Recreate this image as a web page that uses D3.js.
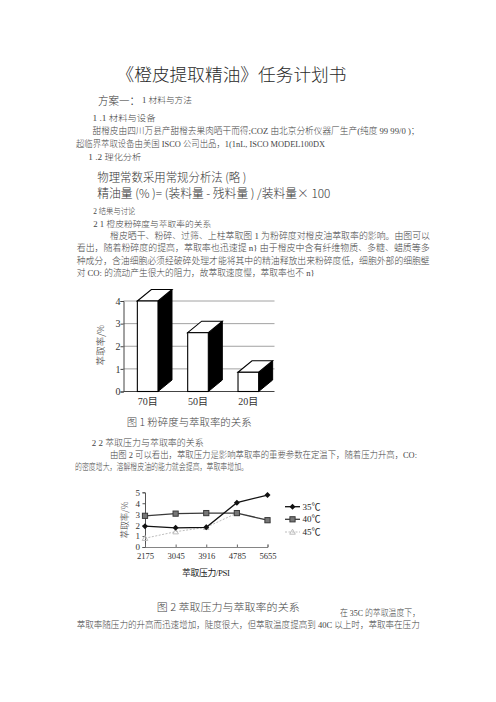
<!DOCTYPE html>
<html><head><meta charset="utf-8">
<script src="https://cdn.jsdelivr.net/npm/d3@7/dist/d3.min.js"></script>
<style>html,body{margin:0;padding:0;background:#fff;}svg{display:block;}</style>
</head><body>
<script>
// ---- data ----
const barCategories = ["70目", "50目", "20目"];
const barValues = [4.0, 2.6, 0.85];
const barTicks = [0, 1, 2, 3, 4];
const pressures = ["2175", "3045", "3916", "4785", "5655"];
const temp35 = [1.9, 1.75, 1.8, 4.05, 4.75];
const temp40 = [2.85, 3.05, 3.1, 3.1, 2.45];
const temp45 = [0.8, 1.4, 1.8, 3.1, 2.45];
const seriesNames = ["35℃", "40℃", "45℃"];
const lineTicks = [0, 1, 2, 3, 4, 5];

const SERIF = '"Liberation Serif","Noto Sans CJK SC",serif';
const CJK = '"Noto Sans CJK SC","Liberation Serif",sans-serif';

const svg = d3.select("body").append("svg").attr("width", 496).attr("height", 702);
svg.append("rect").attr("width", 496).attr("height", 702).attr("fill", "#fff");

function txt(s, x, y, size, opts = {}) {
  const t = svg.append("text").attr("x", x).attr("y", y)
    .attr("font-size", size).attr("font-family", opts.family || SERIF)
    .attr("font-weight", 300)
    .attr("fill", opts.fill || "#444").attr("dominant-baseline", "central")
    .text(s);
  if (opts.len) t.attr("textLength", opts.len).attr("lengthAdjust", "spacingAndGlyphs");
  if (opts.anchor) t.attr("text-anchor", opts.anchor);
  return t;
}

// ---- document text ----
txt("《橙皮提取精油》任务计划书", 116.5, 73.5, 17.5, {family: CJK, len: 230, fill: "#2a2a2a"});
txt("方案一：", 98, 100, 11, {family: CJK, len: 42, fill: "#333"});
txt("1 材料与方法", 142, 100, 8.5, {len: 50});
txt("1 .1 材料与设备", 92.5, 118.3, 8.5, {len: 63});
txt("甜橙皮由四川万县产甜橙去果肉晒干而得;COZ 由北京分析仪器厂生产(纯度 99 99/0 )；", 92.5, 130.5, 8.6, {len: 327});
txt("超临界萃取设备由美国 ISCO 公司出品，1(1nL, ISCO MODEL100DX", 76, 144, 8.6, {len: 249});
txt("1 .2 理化分析", 88.3, 157.3, 8.5, {len: 53});
txt("物理常数采用常规分析法 (略 )", 97.3, 176, 12, {family: CJK, len: 149, fill: "#333"});
txt("精油量 (% )= (装料量 - 残料量 ) /装料量×  100", 97.3, 192.7, 12, {family: CJK, len: 233, fill: "#333"});
txt("2 结果与讨论", 93.3, 211, 8.5, {len: 42});
txt("2 1 橙皮粉碎度与萃取率的关系", 93.3, 223.5, 8.5, {len: 118});
txt("橙皮晒干、粉碎、过筛、上柱萃取图 1 为粉碎度对橙皮油萃取率的影响。由图可以", 110, 236, 8.8, {len: 320});
txt("看出，随着粉碎度的提高，萃取率也迅速提 n} 由于橙皮中含有纤维物质、多糖、蜡质等多", 76.7, 248.3, 8.8, {len: 353});
txt("种成分，含油细胞必须经破碎处理才能将其中的精油释放出来粉碎度低，细胞外部的细胞壁", 76.7, 260.5, 8.8, {len: 353});
txt("对 CO: 的流动产生很大的阻力，故萃取速度慢，萃取率也不 n}", 76.7, 272.5, 8.8, {len: 238});

txt("图  1   粉碎度与萃取率的关系", 126.7, 421.7, 10, {family: CJK, len: 125});

txt("2 2 萃取压力与萃取率的关系", 91.7, 442.5, 8.6, {len: 112});
txt("由图 2 可以看出，萃取压力是影响萃取率的重要参数在定温下，随着压力升高，CO:", 110, 454.5, 8.8, {len: 307});
txt("的密度增大，溶解橙皮油的能力就会提高，萃取率增加。", 75, 466.5, 8.8, {len: 173});

txt("图  2   萃取压力与萃取率的关系", 156.7, 606.7, 10, {family: CJK, len: 143});
txt("在 35C 的萃取温度下，", 340, 612.5, 8.6, {len: 80});
txt("萃取率随压力的升高而迅速增加，陡度很大，但萃取温度提高到 40C 以上时，萃取率在压力", 76.7, 625, 8.8, {len: 343});

// ---- Figure 1: 3D bar chart ----
const bx = d3.scaleBand().domain(barCategories).range([123.5, 274.5]);
const by = d3.scaleLinear().domain([0, 4]).range([391.5, 301]);
const g1 = svg.append("g");
g1.selectAll("line.grid").data(barTicks.filter(d => d > 0)).join("line")
  .attr("x1", bx.range()[0]).attr("x2", bx.range()[1])
  .attr("y1", d => by(d)).attr("y2", d => by(d))
  .attr("stroke", "#8a8a8a").attr("stroke-width", 0.8);
g1.append("line").attr("x1", bx.range()[0]).attr("x2", bx.range()[1])
  .attr("y1", by(0)).attr("y2", by(0)).attr("stroke", "#444").attr("stroke-width", 1);
const yAxis1 = g1.append("g").attr("transform", `translate(${bx.range()[0]},0)`)
  .call(d3.axisLeft(by).tickValues(barTicks).tickSize(3).tickFormat(d3.format("d")));
yAxis1.select(".domain").attr("stroke", "#444");
yAxis1.selectAll(".tick line").attr("stroke", "#444");
yAxis1.selectAll("text").attr("font-size", 10).attr("font-family", SERIF).attr("fill", "#333").attr("x", -3);
const dx = 14, dy = 11.5;
const bw = bx.bandwidth() * 0.41;
barCategories.forEach((c, i) => {
  const cx = bx(c) + bx.bandwidth() / 2 - 1;
  const x0 = cx - bw / 2, x1 = cx + bw / 2;
  const yt = by(barValues[i]), yb = by(0);
  g1.append("path").attr("d", `M${x1},${yt}L${x1 + dx},${yt - dy}L${x1 + dx},${yb - dy}L${x1},${yb}Z`)
    .attr("fill", "#000").attr("stroke", "#000").attr("stroke-width", 1);
  g1.append("path").attr("d", `M${x0},${yt}L${x0 + dx},${yt - dy}L${x1 + dx},${yt - dy}L${x1},${yt}Z`)
    .attr("fill", "#fff").attr("stroke", "#000").attr("stroke-width", 1.1);
  g1.append("rect").attr("x", x0).attr("y", yt).attr("width", bw).attr("height", yb - yt)
    .attr("fill", "#fff").attr("stroke", "#000").attr("stroke-width", 1.1);
  g1.append("text").attr("x", cx).attr("y", 401).attr("text-anchor", "middle")
    .attr("dominant-baseline", "central").attr("font-size", 10).attr("font-family", SERIF)
    .attr("fill", "#333").text(c);
});
g1.append("text").attr("transform", "translate(100,345) rotate(-90)").attr("text-anchor", "middle")
  .attr("dominant-baseline", "central").attr("font-size", 9.5).attr("font-family", CJK)
  .attr("font-weight", 300).attr("fill", "#333").text("萃取率/%");

// ---- Figure 2: line chart ----
const lx = d3.scalePoint().domain(pressures).range([145, 267.5]);
const ly = d3.scaleLinear().domain([0, 5]).range([547, 492.3]);
const g2 = svg.append("g");
const yAxis2 = g2.append("g").attr("transform", "translate(145,0)")
  .call(d3.axisLeft(ly).tickValues(lineTicks).tickSize(2.5).tickFormat(d3.format("d")));
yAxis2.select(".domain").attr("stroke", "#555");
yAxis2.selectAll(".tick line").attr("stroke", "#555");
yAxis2.selectAll("text").attr("font-size", 9).attr("font-family", SERIF).attr("fill", "#333").attr("x", -5);
const xAxis2 = g2.append("g").attr("transform", `translate(0,${ly(0)})`)
  .call(d3.axisBottom(lx).tickSize(-2.5).tickPadding(8));
xAxis2.select(".domain").attr("stroke", "#666").attr("stroke-width", 0.8);
xAxis2.selectAll(".tick line").attr("stroke", "#666");
xAxis2.selectAll("text").attr("font-size", 8.6).attr("font-family", SERIF).attr("fill", "#333").attr("dy", "0.45em");
g2.append("text").attr("x", 206).attr("y", 573).attr("text-anchor", "middle")
  .attr("dominant-baseline", "central").attr("font-size", 8.8).attr("font-family", SERIF)
  .attr("fill", "#222").attr("textLength", 48).text("萃取压力/PSI");
g2.append("text").attr("transform", "translate(124,520) rotate(-90)").attr("text-anchor", "middle")
  .attr("dominant-baseline", "central").attr("font-size", 8.6).attr("font-family", CJK)
  .attr("font-weight", 300).attr("fill", "#333").text("萃取率/%");

const series = [
  {name: seriesNames[2], vals: temp45, color: "#b5b5b5", dash: "2,1.5", marker: "tri", w: 0.9},
  {name: seriesNames[1], vals: temp40, color: "#3a3a3a", dash: null, marker: "sq", w: 1.3},
  {name: seriesNames[0], vals: temp35, color: "#111", dash: null, marker: "dia", w: 1.3},
];
const line = d3.line().x((d, i) => lx(pressures[i])).y(d => ly(d));
function marker(sel, type, x, y, color) {
  if (type === "dia") {
    sel.append("path").attr("d", `M${x},${y - 3}L${x + 3},${y}L${x},${y + 3}L${x - 3},${y}Z`).attr("fill", color);
  } else if (type === "sq") {
    sel.append("rect").attr("x", x - 2.6).attr("y", y - 2.6).attr("width", 5.2).attr("height", 5.2)
      .attr("fill", "#777").attr("stroke", color).attr("stroke-width", 1);
  } else {
    sel.append("path").attr("d", `M${x},${y - 2.8}L${x + 2.8},${y + 2.2}L${x - 2.8},${y + 2.2}Z`)
      .attr("fill", "none").attr("stroke", color).attr("stroke-width", 0.9);
  }
}
series.forEach(s => {
  g2.append("path").attr("d", line(s.vals)).attr("fill", "none").attr("stroke", s.color)
    .attr("stroke-width", s.w).attr("stroke-dasharray", s.dash);
  s.vals.forEach((v, i) => marker(g2, s.marker, lx(pressures[i]), ly(v), s.color));
});
const legY = [506.7, 519.3, 532];
[series[2], series[1], series[0]].forEach((s, i) => {
  g2.append("line").attr("x1", 285).attr("x2", 300).attr("y1", legY[i]).attr("y2", legY[i])
    .attr("stroke", s.color).attr("stroke-width", s.w).attr("stroke-dasharray", s.dash);
  marker(g2, s.marker, 292.5, legY[i], s.color);
  g2.append("text").attr("x", 302.5).attr("y", legY[i]).attr("dominant-baseline", "central")
    .attr("font-size", 9).attr("font-family", SERIF).attr("fill", "#222").text(s.name);
});
</script>
</body></html>
